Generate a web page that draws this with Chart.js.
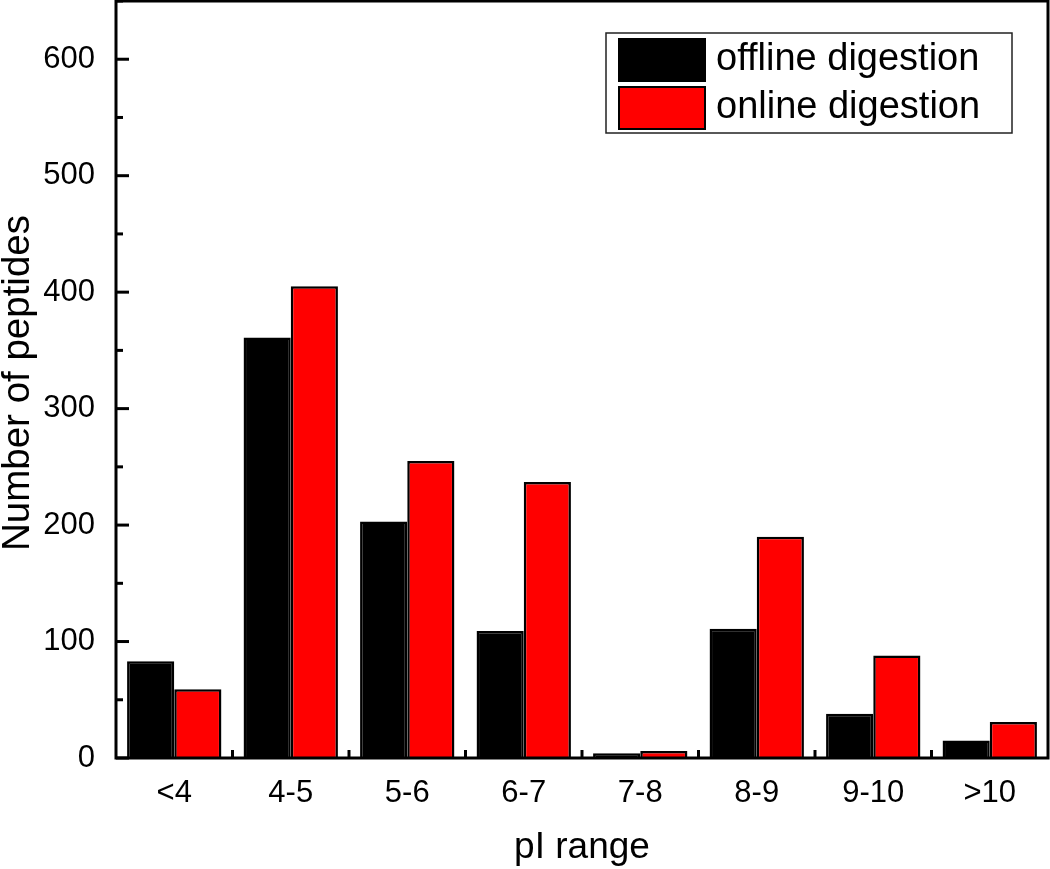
<!DOCTYPE html>
<html>
<head>
<meta charset="utf-8">
<script src="https://cdn.jsdelivr.net/npm/chart.js@4/dist/chart.umd.min.js"></script>
<style>
  html, body { margin: 0; padding: 0; background: #fff; }
  #wrap { width: 1050px; height: 869px; }
</style>
</head>
<body>
<div id="wrap"><canvas id="chart" width="1050" height="869"></canvas></div>
<script>
// pI ranges
const categories = ['<4', '4-5', '5-6', '6-7', '7-8', '8-9', '9-10', '>10'];
const offlineValues = [83, 361, 203, 109, 4, 111, 38, 15];
const onlineValues = [59, 405, 255, 237, 6, 190, 88, 31];
const seriesNames = ['offline digestion', 'online digestion'];
const xTitle = 'pI range';
const yTitle = 'Number of peptides';
const yMax = 650;
const yStep = 100;

const FONT = 'Arial, "Liberation Sans", Helvetica, sans-serif';

// axes frame, inward ticks, titles and legend box
const framePlugin = {
    id: 'frame',
    afterDatasetsDraw(chart) {
        const ctx = chart.ctx;
        const area = chart.chartArea;
        const x = chart.scales.x;
        const y = chart.scales.y;
        ctx.save();
        ctx.strokeStyle = '#000';
        ctx.lineWidth = 3;
        ctx.strokeRect(area.left, area.top, area.right - area.left, area.bottom - area.top);

        // y ticks, major every 100, minor every 50
        for (let v = 0; v <= yMax; v += yStep / 2) {
            const py = y.getPixelForValue(v);
            const len = (v % yStep === 0) ? 13 : 7;
            ctx.beginPath();
            ctx.moveTo(area.left, py);
            ctx.lineTo(area.left + len, py);
            ctx.stroke();
        }

        // x ticks between categories
        for (let i = 0; i < categories.length - 1; i++) {
            const px = (x.getPixelForValue(i) + x.getPixelForValue(i + 1)) / 2;
            ctx.beginPath();
            ctx.moveTo(px, area.bottom);
            ctx.lineTo(px, area.bottom - 8);
            ctx.stroke();
        }

        // axis titles
        ctx.fillStyle = '#000';
        ctx.textAlign = 'center';
        ctx.textBaseline = 'alphabetic';
        ctx.font = '37px ' + FONT;
        ctx.fillText(xTitle, (area.left + area.right) / 2, 858);
        ctx.save();
        ctx.translate(29, 383);
        ctx.rotate(-Math.PI / 2);
        ctx.font = '38.5px ' + FONT;
        ctx.fillText(yTitle, 0, 0);
        ctx.restore();

        // legend
        ctx.lineWidth = 1.5;
        ctx.strokeStyle = '#222';
        ctx.strokeRect(606, 33, 406, 100);
        chart.data.datasets.forEach((ds, i) => {
            const top = 39 + i * 48;
            ctx.fillStyle = ds.backgroundColor;
            ctx.fillRect(619, top, 86, 42);
            ctx.lineWidth = 2;
            ctx.strokeStyle = '#000';
            ctx.strokeRect(619, top, 86, 42);
            ctx.fillStyle = '#000';
            ctx.textAlign = 'left';
            ctx.textBaseline = 'middle';
            ctx.font = '38px ' + FONT;
            ctx.fillText(ds.label, 716, top + 21);
        });
        ctx.restore();
    }
};

const ctx = document.getElementById('chart').getContext('2d');
new Chart(ctx, {
    type: 'bar',
    data: {
        labels: categories,
        datasets: [{
            label: seriesNames[0],
            data: offlineValues,
            backgroundColor: '#000000',
            borderColor: '#000000',
            borderWidth: 2.5,
            borderSkipped: 'bottom'
        }, {
            label: seriesNames[1],
            data: onlineValues,
            backgroundColor: '#ff0000',
            borderColor: '#000000',
            borderWidth: 2.5,
            borderSkipped: 'bottom'
        }]
    },
    options: {
        responsive: false,
        animation: false,
        devicePixelRatio: 1,
        categoryPercentage: 0.81,
        barPercentage: 1.0,
        layout: {
            padding: { left: 0, right: 2, top: 1, bottom: 0 }
        },
        plugins: {
            legend: { display: false },
            tooltip: { enabled: false }
        },
        scales: {
            x: {
                grid: { display: false },
                border: { display: false },
                ticks: {
                    color: '#000',
                    font: { family: FONT, size: 31 },
                    padding: 9,
                    maxRotation: 0
                },
                afterFit(scale) {
                    scale.height = 111;
                    scale.paddingLeft = 0;
                    scale.paddingRight = 0;
                }
            },
            y: {
                min: 0,
                max: yMax,
                grid: { display: false },
                border: { display: false },
                ticks: {
                    stepSize: yStep,
                    color: '#000',
                    font: { family: FONT, size: 31 },
                    padding: 13
                },
                afterBuildTicks(scale) {
                    scale.ticks = scale.ticks.filter(t => t.value % yStep === 0);
                },
                afterFit(scale) {
                    scale.width = 116;
                    scale.paddingTop = 0;
                    scale.paddingBottom = 0;
                }
            }
        }
    },
    plugins: [framePlugin]
});
</script>
</body>
</html>
